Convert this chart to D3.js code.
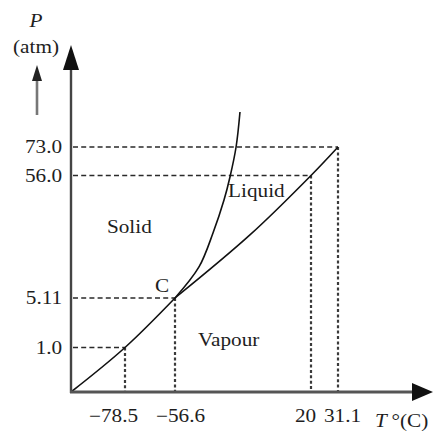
<!DOCTYPE html>
<html>
<head>
<meta charset="utf-8">
<script src="https://cdn.jsdelivr.net/npm/d3@7"></script>
<style>
body { margin: 0; background: #fff; }
text { font-family: "Liberation Serif", "Times New Roman", serif; fill: #1e1e1e; }
</style>
</head>
<body>
<div id="chart"></div>
<script>
// tick values and their printed labels
var tempTicks = [-78.5, -56.6, 20, 31.1];
var tempLabels = ["\u221278.5", "\u221256.6", "20", "31.1"];
var presTicks = [1.0, 5.11, 56.0, 73.0];
var presLabels = ["1.0", "5.11", "56.0", "73.0"];

// phase boundaries, [T (°C), P (atm)]
var sublimation = [[-100, 0], [-78.5, 1.0], [-56.6, 5.11]];
var vaporisation = [[-56.6, 5.11], [-14.4, 31.3], [20, 56.0], [31.1, 73.0]];
var fusion = [[-56.6, 5.11], [-43.1, 18.0], [-35.2, 32.1], [-29.0, 45.8], [-25.6, 55.5], [-22.2, 73.0], [-20.0, 94.0]];

// region names
var regions = [
    {name: "Solid", t: -85.7, p: 32.1},
    {name: "Liquid", t: -26.7, p: 47.1},
    {name: "Vapour", t: -43.6, p: 1.12},
    {name: "C", t: -65.4, p: 7.6}
];

var width = 434, height = 434;
var stretch = 1.18; // the type in the sketch is a bit wide

var svg = d3.select("#chart").append("svg")
    .attr("width", width)
    .attr("height", height);

// the sketch is not to scale, so both scales are piecewise
var x = d3.scaleLinear()
    .domain([-100, -78.5, -56.6, 20, 31.1])
    .range([71, 125, 175, 311, 338]);
var y = d3.scaleLinear()
    .domain([0, 1.0, 5.11, 56.0, 73.0, 100])
    .range([392, 347.5, 298, 175.5, 147, 102]);

var x0 = x(-100), y0 = y(0);

// guide lines to the marked points
var marks = tempTicks.map((t, i) => [t, presTicks[i]]);

svg.append("g").selectAll("line")
    .data(marks)
    .join("line")
    .attr("x1", x0 + 2)
    .attr("x2", d => x(d[0]))
    .attr("y1", d => y(d[1]))
    .attr("y2", d => y(d[1]))
    .attr("stroke", "#2a2a2a")
    .attr("stroke-width", 1.7)
    .attr("stroke-dasharray", "5,3.2");

svg.append("g").selectAll("line")
    .data(marks)
    .join("line")
    .attr("x1", d => x(d[0]))
    .attr("x2", d => x(d[0]))
    .attr("y1", d => y(d[1]))
    .attr("y2", y0)
    .attr("stroke", "#3a3a3a")
    .attr("stroke-width", 2.2)
    .attr("stroke-dasharray", "3,2.4");

// curves
var line = d3.line()
    .x(d => x(d[0]))
    .y(d => y(d[1]))
    .curve(d3.curveCatmullRom.alpha(0.5));

svg.append("g").selectAll("path")
    .data([sublimation, vaporisation, fusion])
    .join("path")
    .attr("d", line)
    .attr("fill", "none")
    .attr("stroke", "#111")
    .attr("stroke-width", 1.6);

// axes: library ticks, hand drawn arrows
var yAxis = svg.append("g")
    .attr("transform", `translate(${x0},0)`)
    .call(d3.axisLeft(y).tickValues(presTicks).tickSize(0).tickPadding(7.5)
        .tickFormat((d, i) => presLabels[i]));
yAxis.select(".domain").remove();
yAxis.selectAll("text")
    .style("font-size", "18px")
    .attr("transform", `scale(${stretch},1)`);
yAxis.attr("font-family", null).attr("font-size", null);

var xOffsets = [-12, 5, -6, 4];
var xAxis = svg.append("g")
    .attr("transform", `translate(0,${y0})`)
    .call(d3.axisBottom(x).tickValues(tempTicks).tickSize(0).tickPadding(17)
        .tickFormat((d, i) => tempLabels[i]));
xAxis.select(".domain").remove();
xAxis.selectAll("text")
    .style("font-size", "18px")
    .attr("x", (d, i) => xOffsets[i] / stretch)
    .attr("transform", `scale(${stretch},1)`);
xAxis.attr("font-family", null).attr("font-size", null);

svg.append("line")
    .attr("x1", x0).attr("x2", x0)
    .attr("y1", y0 + 1).attr("y2", 66)
    .attr("stroke", "#444").attr("stroke-width", 2.4);
svg.append("path")
    .attr("d", `M${x0},45 L${x0 - 8},70 L${x0 + 8},70 Z`)
    .attr("fill", "#111");

svg.append("line")
    .attr("x1", x0 - 1).attr("x2", 416)
    .attr("y1", y0).attr("y2", y0)
    .attr("stroke", "#555").attr("stroke-width", 3);
svg.append("path")
    .attr("d", `M433,${y0} L412,${y0 - 9} L412,${y0 + 9} Z`)
    .attr("fill", "#111");

// axis titles
function label(txt, px, py, anchor, italic) {
    var t = svg.append("text")
        .attr("transform", `translate(${px},${py}) scale(${stretch},1)`)
        .attr("text-anchor", anchor || "start")
        .style("font-size", "18px")
        .text(txt);
    if (italic) t.style("font-style", "italic");
    return t;
}

label("P", 36, 27, "middle", true);
label("(atm)", 36, 53, "middle");

svg.append("line")
    .attr("x1", 37).attr("x2", 37)
    .attr("y1", 115).attr("y2", 78)
    .attr("stroke", "#777").attr("stroke-width", 2.6);
svg.append("path")
    .attr("d", "M37,65 L32,81 L42,81 Z")
    .attr("fill", "#222");

var tt = svg.append("text")
    .attr("transform", `translate(375,427) scale(${stretch},1)`)
    .style("font-size", "18px");
tt.append("tspan").style("font-style", "italic").text("T");
tt.append("tspan").attr("dx", 4).text("\u00b0(C)");

// region labels
svg.append("g").selectAll("text")
    .data(regions)
    .join("text")
    .attr("transform", d => `translate(${x(d.t)},${y(d.p)}) scale(${stretch},1)`)
    .style("font-size", "18px")
    .text(d => d.name);
</script>
</body>
</html>
